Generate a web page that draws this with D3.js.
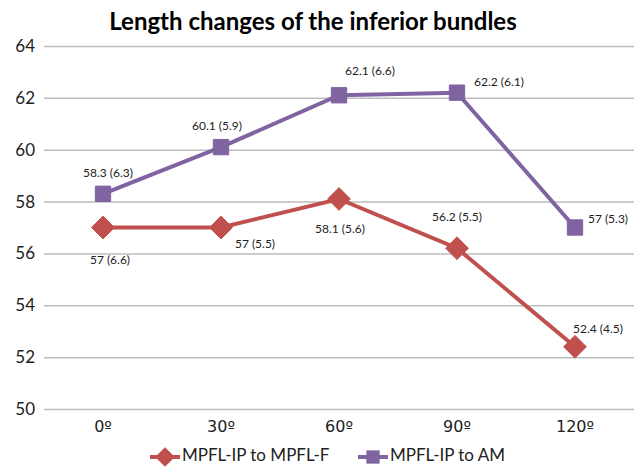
<!DOCTYPE html>
<html>
<head>
<meta charset="utf-8">
<script src="https://cdn.jsdelivr.net/npm/d3@7"></script>
<style>
  body { margin: 0; background: #fff; }
  svg { font-family: Lato, "Open Sans", sans-serif; }
</style>
</head>
<body>
<div id="chart"></div>
<script>
"use strict";

// data
const angles = ["0º", "30º", "60º", "90º", "120º"];
const mpflF = [57, 57, 58.1, 56.2, 52.4];
const mpflFsd = [6.6, 5.5, 5.6, 5.5, 4.5];
const mpflAM = [58.3, 60.1, 62.1, 62.2, 57];
const mpflAMsd = [6.3, 5.9, 6.6, 6.1, 5.3];
const yTicks = [50, 52, 54, 56, 58, 60, 62, 64];

// label placement for each point (px offsets from the marker)
const fLabelOff = [[7, 33], [34, 17], [1, 31], [0, -30], [23, -17]];
const amLabelOff = [[5, -20], [-4, -20], [31, -23], [42, -10], [33, -8]];

const W = 636, H = 467;
const margin = {top: 46, right: 2, bottom: 58, left: 44};
const width = W - margin.left - margin.right,
      height = H - margin.top - margin.bottom;

const svg = d3.select("#chart").append("svg")
  .attr("width", W).attr("height", H);

const g = svg.append("g")
  .attr("transform", "translate(" + margin.left + "," + margin.top + ")");

const x = d3.scaleBand().domain(angles).range([0, width]);
const y = d3.scaleLinear().domain([50, 64]).range([height, 0]);

// title
svg.append("text")
  .attr("x", 313).attr("y", 30)
  .attr("text-anchor", "middle")
  .attr("font-weight", "bold")
  .attr("font-size", 24)
  .text("Length changes of the inferior bundles");

// gridlines + y labels
g.append("g")
  .call(d3.axisLeft(y).tickValues(yTicks).tickSize(-width).tickPadding(9))
  .call(a => a.select(".domain").remove())
  .call(a => a.selectAll("line").attr("stroke", "#bdbdbd").attr("stroke-width", 1.5))
  .call(a => a.selectAll("text").attr("font-size", 17).attr("fill", "#222")
    .attr("font-family", "Lato, 'Open Sans', sans-serif"));

// x labels (DejaVu has the underlined ordinal sign)
g.append("g")
  .attr("transform", "translate(0," + height + ")")
  .call(d3.axisBottom(x).tickSize(0).tickPadding(12))
  .call(a => a.select(".domain").remove())
  .call(a => a.selectAll("text").attr("font-size", 16).attr("fill", "#222")
    .attr("font-family", "'DejaVu Sans', sans-serif"));

const cx = d => x(d) + x.bandwidth() / 2;

const series = [
  {name: "MPFL-IP to MPFL-F", vals: mpflF, sd: mpflFsd, color: "#C0504D", sym: d3.symbolDiamond2, size: 330, off: fLabelOff},
  {name: "MPFL-IP to AM", vals: mpflAM, sd: mpflAMsd, color: "#8064A2", sym: d3.symbolSquare2, size: 300, off: amLabelOff}
];

const line = d3.line()
  .x((d, i) => cx(angles[i]))
  .y(d => y(d));

series.forEach(s => {
  g.append("path")
    .datum(s.vals)
    .attr("fill", "none")
    .attr("stroke", s.color)
    .attr("stroke-width", 4)
    .attr("d", line);

  g.selectAll(null).data(s.vals).enter().append("path")
    .attr("transform", (d, i) => "translate(" + cx(angles[i]) + "," + y(d) + ")")
    .attr("d", d3.symbol().type(s.sym).size(s.size))
    .attr("fill", s.color)
    .attr("stroke", s.color)
    .attr("stroke-width", 1);

  g.selectAll(null).data(s.vals).enter().append("text")
    .attr("x", (d, i) => cx(angles[i]) + s.off[i][0])
    .attr("y", (d, i) => y(d) + s.off[i][1])
    .attr("text-anchor", "middle")
    .attr("dominant-baseline", "middle")
    .attr("font-size", 12)
    .attr("fill", "#222")
    .text((d, i) => d + " (" + s.sd[i] + ")");
});

// legend
const legend = svg.append("g").attr("transform", "translate(0,457)");
const legX = [150, 358];
series.forEach((s, i) => {
  const lg = legend.append("g").attr("transform", "translate(" + legX[i] + ",0)");
  lg.append("line").attr("x1", 0).attr("x2", 30)
    .attr("stroke", s.color).attr("stroke-width", 4);
  lg.append("path").attr("transform", "translate(15,0)")
    .attr("d", d3.symbol().type(s.sym).size(s.size * 0.75))
    .attr("fill", s.color);
  lg.append("text").attr("x", 32).attr("y", 0)
    .attr("dominant-baseline", "middle")
    .attr("font-size", 17).attr("fill", "#222")
    .text(s.name);
});
</script>
</body>
</html>
